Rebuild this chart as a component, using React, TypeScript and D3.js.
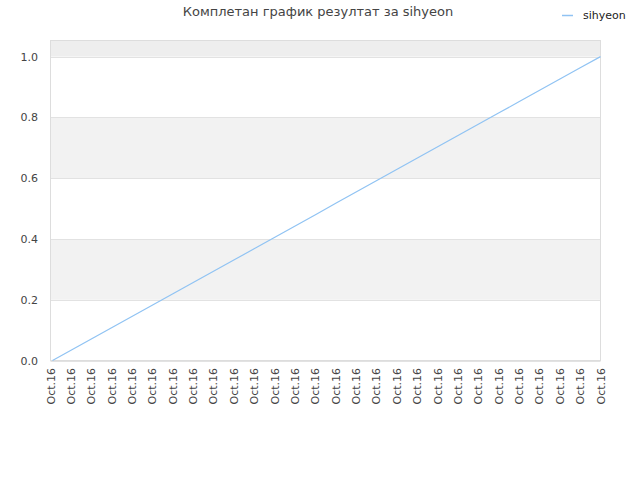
import React from "react";
import * as d3 from "d3";

const title = "Комплетан график резултат за sihyeon";
const seriesName = "sihyeon";
const categories = [
  "Oct.16","Oct.16","Oct.16","Oct.16","Oct.16","Oct.16","Oct.16",
  "Oct.16","Oct.16","Oct.16","Oct.16","Oct.16","Oct.16","Oct.16",
  "Oct.16","Oct.16","Oct.16","Oct.16","Oct.16","Oct.16","Oct.16",
  "Oct.16","Oct.16","Oct.16","Oct.16","Oct.16","Oct.16","Oct.16",
];
const values = [
  0, 0.037, 0.074, 0.111, 0.148, 0.185, 0.222, 0.259, 0.296, 0.333,
  0.37, 0.407, 0.444, 0.481, 0.519, 0.556, 0.593, 0.63, 0.667, 0.704,
  0.741, 0.778, 0.815, 0.852, 0.889, 0.926, 0.963, 1.0,
];
const yTicks = [0, 0.2, 0.4, 0.6, 0.8, 1.0];

export default function App() {
  const W = 640, H = 480;
  const left = 50.5, right = 600.5, top = 40.5, bottom = 360.5;
  const y = d3.scaleLinear().domain([0, 1.053]).range([bottom, top]);
  const x = d3.scaleLinear().domain([0, categories.length - 1]).range([left + 2, right]);
  const line = d3.line<number>().x((_, i) => x(i)).y((d) => y(d));
  const bands = [
    { from: 1.0, to: 1.053, fill: "#eeeeee" },
    { from: 0.6, to: 0.8, fill: "#f2f2f2" },
    { from: 0.2, to: 0.4, fill: "#f2f2f2" },
  ];
  const font = "DejaVu Sans, sans-serif";
  return (
    <svg width={W} height={H} style={{ position: "absolute", left: 0, top: 0 }} fontFamily={font}>
      <rect x={0} y={0} width={W} height={H} fill="#fff" />
      <text x={318} y={16} textAnchor="middle" fontSize={13} fill="#444">{title}</text>
      <line x1={562} x2={573} y1={15.5} y2={15.5} stroke="#90c3f3" strokeWidth={1.5} />
      <text x={583} y={19} fontSize={11} fill="#222">{seriesName}</text>
      {bands.map((b, i) => (
        <rect key={i} x={left} width={right - left} y={y(b.to)} height={y(b.from) - y(b.to)} fill={b.fill} />
      ))}
      {yTicks.map((t) => (
        <g key={t}>
          <line x1={left} x2={right} y1={Math.round(y(t)) + 0.5} y2={Math.round(y(t)) + 0.5} stroke="#e2e2e2" />
          <text x={38} y={y(t) + 4} textAnchor="end" fontSize={11} fill="#444">{t.toFixed(1)}</text>
        </g>
      ))}
      <rect x={left} y={top} width={right - left} height={bottom - top} fill="none" stroke="#dddddd" />
      <path d={line(values) || ""} fill="none" stroke="#90c3f3" strokeWidth={1.2} />
      {categories.map((c, i) => {
        const cx = left + (i * (right - left)) / (categories.length - 1);
        return (
          <text key={i} transform={`translate(${cx + 4},${368}) rotate(-90)`} textAnchor="end" fontSize={11} fill="#444">{c}</text>
        );
      })}
    </svg>
  );
}
